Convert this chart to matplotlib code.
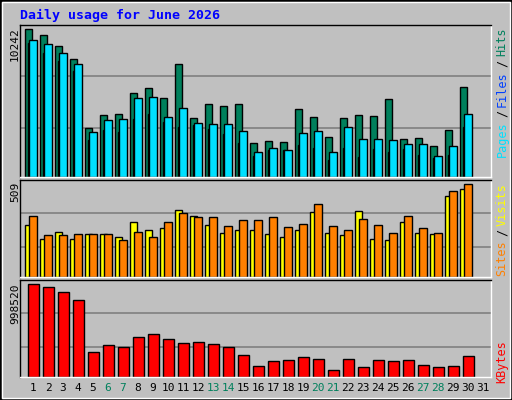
import numpy as np
import matplotlib
matplotlib.use("Agg")
import matplotlib.pyplot as plt
from matplotlib.patches import Rectangle

title = "Daily usage for June 2026"
days = np.arange(1, 32)
weekend = [6, 7, 13, 14, 20, 21, 27, 28]

hits = [10242, 9823, 9055, 8217, 3398, 4306, 4376, 5843, 6192, 5493, 7868, 4097, 5074, 4935, 5074,
        2351, 2491, 2421, 4725, 4167, 2770, 4097, 4306, 4236, 5424, 2630, 2700, 2141, 3259, 6262]
files = [9474, 9194, 8636, 7868, 3119, 3957, 4027, 5493, 5563, 4167, 4795, 3748, 3678, 3678, 3189,
         1722, 2002, 1862, 3049, 3189, 1722, 3468, 2630, 2630, 2560, 2281, 2281, 1443, 2141, 4376]
pages = [9264, 8636, 8077, 7379, 2560, 3259, 3119, 4027, 4376, 3817, 3468, 3608, 3329, 2979, 2351,
         1443, 1862, 1862, 2211, 2002, 1164, 2002, 1373, 1932, 1722, 1932, 1513, 1304, 1513, 3468]
sites = [281, 209, 248, 209, 237, 237, 220, 298, 254, 265, 365, 331, 281, 242, 259,
         254, 237, 220, 259, 354, 242, 231, 359, 209, 204, 298, 242, 237, 442, 481]
visits = [331, 231, 231, 237, 237, 237, 204, 248, 220, 298, 348, 326, 326, 276, 309,
          309, 326, 270, 287, 398, 276, 259, 315, 281, 242, 331, 265, 242, 470, 509]
kbytes = [998520, 965700, 911000, 823600, 266000, 342600, 320700, 430000, 462800, 408200,
          364400, 375400, 353500, 320700, 233200, 113000, 167600, 178600, 211400, 189500,
          80200, 189500, 102000, 178600, 167600, 178600, 123900, 102000, 113000, 222300]

W, H = 512, 400
GREY = "#C0C0C0"
MONO = "DejaVu Sans Mono"
fig = plt.figure(figsize=(W / 100, H / 100), dpi=100, facecolor=GREY)

# outer bevel frame
fig.patches.append(Rectangle((0, 0), 1, 1, transform=fig.transFigure, fill=False, ec="black", lw=2))
fig.patches.append(Rectangle((2 / W, 2 / H), 1 - 4 / W, 1 - 4 / H, transform=fig.transFigure,
                             fill=False, ec="white", lw=1))


def panel(y0, y1):
    ax = fig.add_axes([20 / W, 1 - y1 / H, 471 / W, (y1 - y0) / H])
    ax.set_facecolor(GREY)
    ax.set_xlim(0.13, 31.53)
    ax.set_xticks([])
    ax.set_yticks([])
    for s in ax.spines.values():
        s.set_color("black")
        s.set_linewidth(1)
    ax.spines["right"].set_color("white")
    ax.spines["bottom"].set_color("white")
    return ax


def grid(ax, fracs):
    for f in fracs:
        ax.axhline(ax.get_ylim()[1] * f, color="#808080", lw=1.2, zorder=0)


x = np.arange(1, 31)
kw = dict(edgecolor="black", linewidth=1, align="edge")

ax1 = panel(25, 177)
ax1.set_ylim(0, 10544)
grid(ax1, [147 / 453, 300 / 453])
ax1.bar(x - 0.53, hits, 0.49, color="#00805C", **kw)
ax1.bar(x - 0.35, pages, 0.17, color="#0040FF", **kw)
ax1.bar(x - 0.25, files, 0.49, color="#00E0FF", **kw)

ax2 = panel(180, 277)
ax2.set_ylim(0, 529)
grid(ax2, [89 / 286, 188 / 286])
ax2.bar(x - 0.53, sites, 0.49, color="#FFFF00", **kw)
ax2.bar(x - 0.25, visits, 0.49, color="#FF8000", **kw)

ax3 = panel(280, 377)
ax3.set_ylim(0, 1038600)
grid(ax3, [88 / 285, 187 / 285])
ax3.bar(x - 0.33, kbytes, 0.7, color="#FF0000", **kw)

for d in days:
    xf = (20 + (d - 0.13) * 15.0) / W
    fig.text(xf, 1 - 388 / H, str(d), ha="center", va="center", family=MONO, fontsize=8,
             color="#00805C" if d in weekend else "black")

fig.text(20 / W, 1 - 15 / H, title, ha="left", va="center", family=MONO, fontsize=9.5,
         fontweight="bold", color="#0000FF")

for y, lab in [(27, "10242"), (182, "509"), (283, "998520")]:
    fig.text(15 / W, 1 - y / H, lab, rotation=90, ha="center", va="top", family=MONO, fontsize=8)


def side(y_top, parts):
    y = y_top
    for txt, col in parts:
        fig.text(502 / W, 1 - y / H, txt, rotation=90, ha="center", va="top",
                 family=MONO, fontsize=8.5, color=col)
        y += len(txt) * 7 + 4


side(28, [("Hits", "#00805C"), ("/", "#000000"), ("Files", "#0040FF"), ("/", "#000000"), ("Pages", "#00E0FF")])
side(183, [("Visits", "#FFFF00"), ("/", "#000000"), ("Sites", "#FF8000")])
side(340, [("KBytes", "#FF0000")])

fig.savefig("out.png", dpi=100, facecolor=GREY)
